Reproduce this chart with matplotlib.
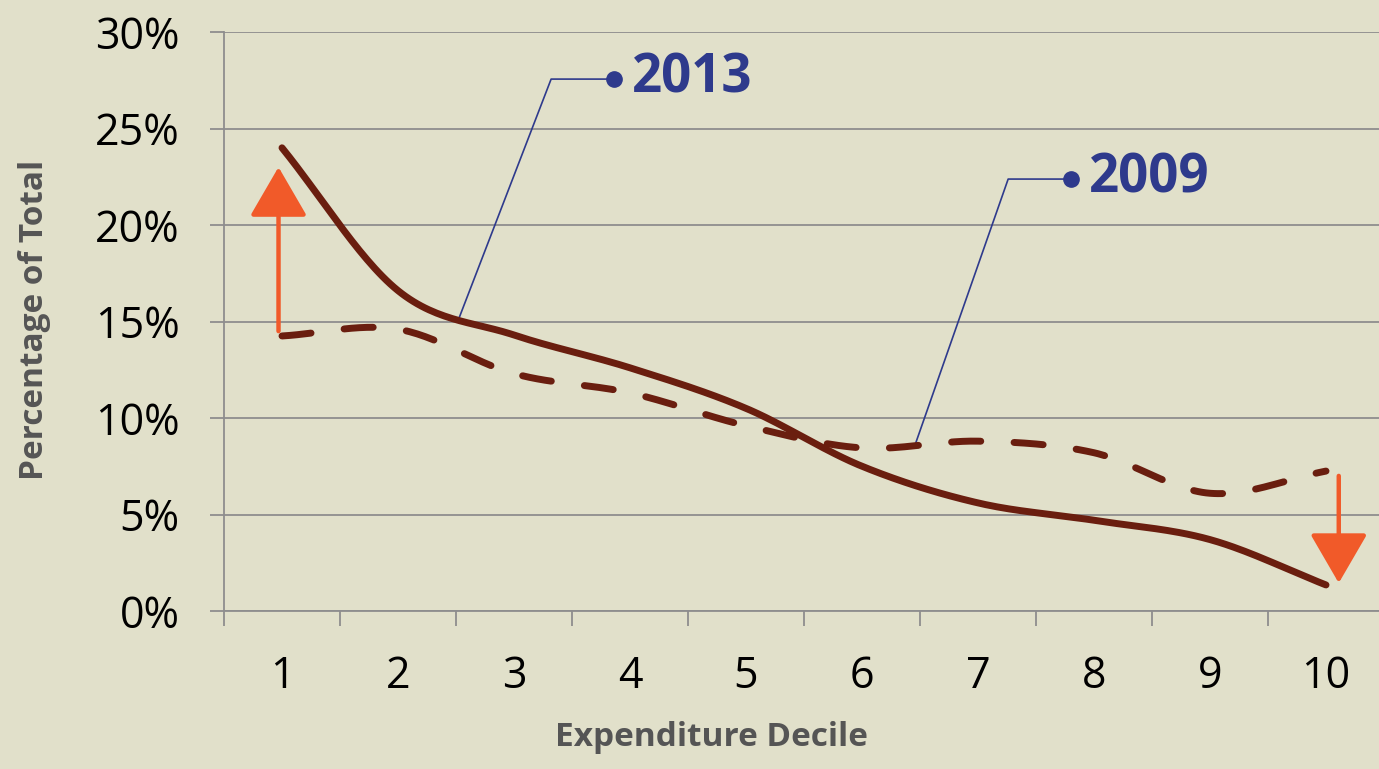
import numpy as np
import matplotlib
matplotlib.use("Agg")
import matplotlib.pyplot as plt
from matplotlib.patches import ArrowStyle

# ---- data ----
deciles = [1, 2, 3, 4, 5, 6, 7, 8, 9, 10]
tick_labels = ["1", "2", "3", "4", "5", "6", "7", "8", "9", "10"]
share_2013 = [24.0, 16.6, 14.3, 12.6, 10.5, 7.5, 5.6, 4.7, 3.7, 1.35]
share_2009 = [14.25, 14.6, 12.3, 11.3, 9.6, 8.45, 8.8, 8.2, 6.1, 7.25]
y_ticks = [0, 5, 10, 15, 20, 25, 30]

BG = "#E1E0CA"
LINE = "#6A1E0F"
ORANGE = "#F15A29"
BLUE = "#2E3A8C"
GRID = "#8E8E8E"

plt.rcParams['font.family'] = ['Open Sans', 'DejaVu Sans']


def smooth(xs, ys, n=30):
    """Catmull-Rom smoothing through the given points (like Excel 'smoothed line')."""
    xs = np.asarray(xs, float)
    ys = np.asarray(ys, float)
    px = np.concatenate([[2 * xs[0] - xs[1]], xs, [2 * xs[-1] - xs[-2]]])
    py = np.concatenate([[2 * ys[0] - ys[1]], ys, [2 * ys[-1] - ys[-2]]])
    ox, oy = [], []
    t = np.linspace(0, 1, n, endpoint=False)
    for i in range(1, len(px) - 2):
        for p, o in ((px, ox), (py, oy)):
            p0, p1, p2, p3 = p[i - 1], p[i], p[i + 1], p[i + 2]
            o.extend(0.5 * ((2 * p1) + (-p0 + p2) * t + (2 * p0 - 5 * p1 + 4 * p2 - p3) * t ** 2
                            + (-p0 + 3 * p1 - 3 * p2 + p3) * t ** 3))
    ox.append(xs[-1])
    oy.append(ys[-1])
    return np.array(ox), np.array(oy)


fig = plt.figure(figsize=(13.79, 7.69), dpi=100, facecolor=BG)
ax = fig.add_axes([224 / 1379, (769 - 611) / 769, 1160 / 1379, (611 - 32) / 769])
ax.set_facecolor(BG)

ax.set_xlim(0.5, 10.5)
ax.set_ylim(0, 30)

# grid
ax.set_yticks(y_ticks)
ax.set_yticklabels([f"{v}%" for v in y_ticks])
ax.yaxis.grid(True, color=GRID, lw=1.3)
ax.set_axisbelow(True)
for s in ["top", "right"]:
    ax.spines[s].set_visible(False)
for s in ["left", "bottom"]:
    ax.spines[s].set_color(GRID)
    ax.spines[s].set_linewidth(1.3)

ax.tick_params(axis="y", length=10, width=1.3, color=GRID, labelsize=31, pad=22, labelcolor="black")
ax.set_xticks(deciles)
ax.set_xticklabels(tick_labels)
ax.set_xticks([d + 0.5 for d in [0] + deciles], minor=True)
ax.tick_params(axis="x", which="major", length=0, labelsize=31, pad=31, labelcolor="black")
ax.tick_params(axis="x", which="minor", length=11, width=1.3, color=GRID)

# lines
sx, sy = smooth(deciles, share_2013)
ax.plot(sx, sy, color=LINE, lw=5, solid_capstyle="round", zorder=4)
dx, dy = smooth(deciles, share_2009)
ax.plot(dx, dy, color=LINE, lw=5, linestyle=(0, (4.2, 4.8)), dash_capstyle="round", zorder=4)

# orange arrows
style = ArrowStyle("-|>", head_length=31, head_width=18)
ax.annotate("", xy=(0.97, 23.0), xytext=(0.97, 14.5),
            arrowprops=dict(arrowstyle=style, color=ORANGE, lw=3.2, shrinkA=0, shrinkB=0,
                            mutation_scale=1), zorder=5)
ax.annotate("", xy=(10.11, 1.45), xytext=(10.11, 7.0),
            arrowprops=dict(arrowstyle=style, color=ORANGE, lw=3.2, shrinkA=0, shrinkB=0,
                            mutation_scale=1), zorder=5)

# callouts
ax.plot([2.52, 3.32, 3.86], [15.08, 27.56, 27.56], color=BLUE, lw=1.2, zorder=3)
ax.plot([3.86], [27.56], "o", color=BLUE, ms=11, zorder=3)
ax.text(4.02, 27.6, "2013", color=BLUE, fontsize=38, fontweight="bold", va="center", ha="left")

ax.plot([6.46, 7.26, 7.80], [8.65, 22.38, 22.38], color=BLUE, lw=1.2, zorder=3)
ax.plot([7.80], [22.38], "o", color=BLUE, ms=11, zorder=3)
ax.text(7.96, 22.4, "2009", color=BLUE, fontsize=38, fontweight="bold", va="center", ha="left")

# axis titles
fig.text(35 / 1379, 1 - 320 / 769, "Percentage of Total", rotation=90, ha="center", va="center",
         fontsize=24, fontweight="bold", color="#555555")
fig.text(711 / 1379, 1 - 738 / 769, "Expenditure Decile", ha="center", va="center",
         fontsize=24, fontweight="bold", color="#555555")

fig.savefig("out.png", dpi=100, facecolor=BG)
